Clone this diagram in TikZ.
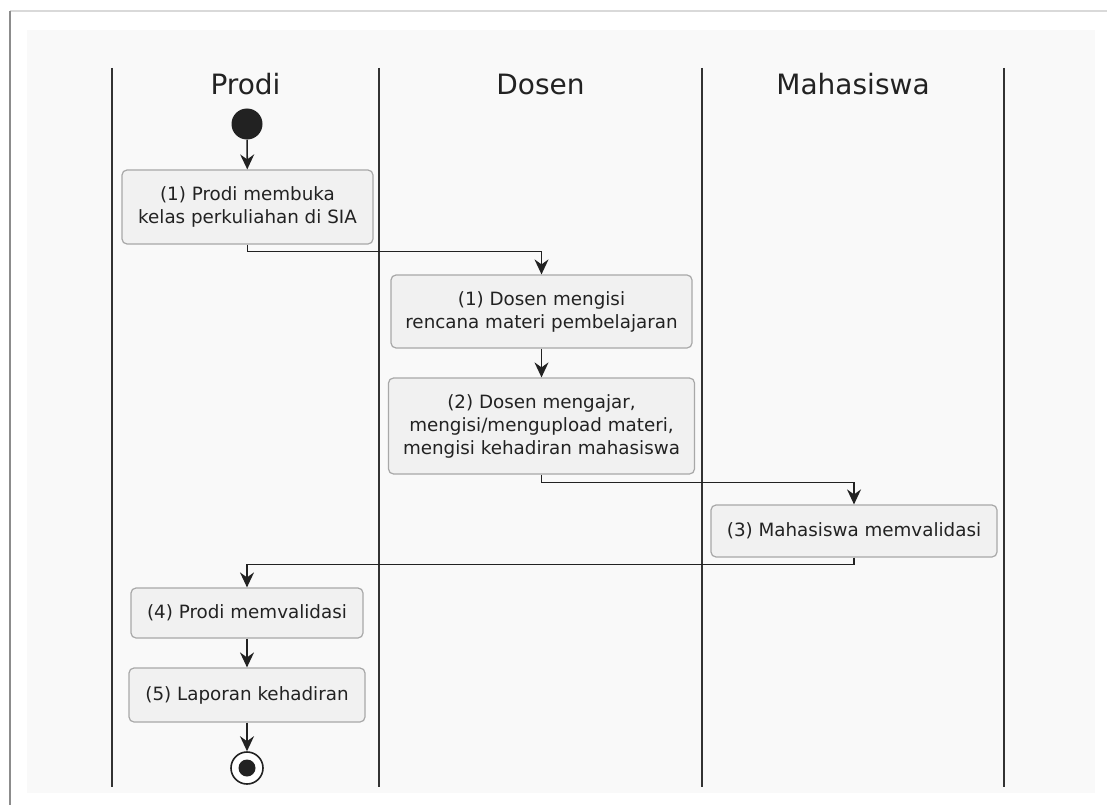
\documentclass[tikz,border=0pt]{standalone}
\usepackage{fontspec}
\setmainfont{DejaVu Sans}
\usetikzlibrary{arrows.meta}
\definecolor{bgin}{HTML}{F9F9F9}
\definecolor{boxfill}{HTML}{F1F1F1}
\definecolor{boxline}{HTML}{A8A8A8}
\definecolor{lane}{HTML}{333333}
\definecolor{conn}{HTML}{222222}
\definecolor{txt}{HTML}{222222}
\tikzset{
  act/.style={draw=boxline, fill=boxfill, rounded corners=5pt, line width=1.2pt, align=center,
    font=\fontsize{18.3}{23}\selectfont, text=txt, inner sep=0pt},
  conn/.style={draw=conn, line width=1.6pt, -{Stealth[length=15pt,width=14pt,inset=5pt]}},
  lanel/.style={draw=lane, line width=2.4pt},
  title/.style={font=\fontsize{28}{32}\selectfont, text=txt, anchor=base}
}
\begin{document}
\begin{tikzpicture}[x=1pt,y=-1pt]
\useasboundingbox (0,0) rectangle (1107,805);
\fill[white] (0,0) rectangle (1107,805);
\fill[bgin] (27,30) rectangle (1095,793);
\draw[draw=black!15, line width=1.5pt] (10,11) -- (1107,11);
\draw[draw=black!45, line width=2pt] (10,11) -- (10,805);
% lanes
\foreach \x/\n in {112/l1,379/l2,702/l3,1004/l4}{
  \draw[lanel] (\x,68) -- (\x,787);
}
\node[title] (tP) at (245.5,95) {Prodi};
\node[title] (tD) at (540.5,95) {Dosen};
\node[title] (tM) at (853,95) {Mahasiswa};
% start
\node[circle, fill=conn, minimum size=31pt, inner sep=0pt] (start) at (247,124) {};
% boxes
\node[act, minimum width=251pt, minimum height=74pt] (a1) at (247.5,207) {(1) Prodi membuka\\kelas perkuliahan di SIA};
\node[act, minimum width=301pt, minimum height=73pt] (a2) at (541.5,311.5) {(1) Dosen mengisi\\rencana materi pembelajaran};
\node[act, minimum width=306pt, minimum height=96pt] (a3) at (541.5,426) {(2) Dosen mengajar,\\mengisi/mengupload materi,\\mengisi kehadiran mahasiswa};
\node[act, minimum width=286pt, minimum height=52pt] (a4) at (854,531) {(3) Mahasiswa memvalidasi};
\node[act, minimum width=232pt, minimum height=50pt] (a5) at (247,613) {(4) Prodi memvalidasi};
\node[act, minimum width=236pt, minimum height=54pt] (a6) at (247,695) {(5) Laporan kehadiran};
% end
\node[circle, draw=conn, fill=white, line width=1.6pt, minimum size=32pt, inner sep=0pt] (end) at (247,768) {};
\node[circle, fill=conn, minimum size=17pt, inner sep=0pt] (endin) at (end.center) {};
% connectors
\draw[conn] (start) -- (a1);
\draw[conn] (a1.south) -- ++(0,7) -| (a2.north);
\draw[conn] (a2) -- (a3);
\draw[conn] (a3.south) -- ++(0,8) -| (a4.north);
\draw[conn] (a4.south) -- ++(0,7) -| (a5.north);
\draw[conn] (a5) -- (a6);
\draw[conn] (a6) -- (end);
\end{tikzpicture}
\end{document}
